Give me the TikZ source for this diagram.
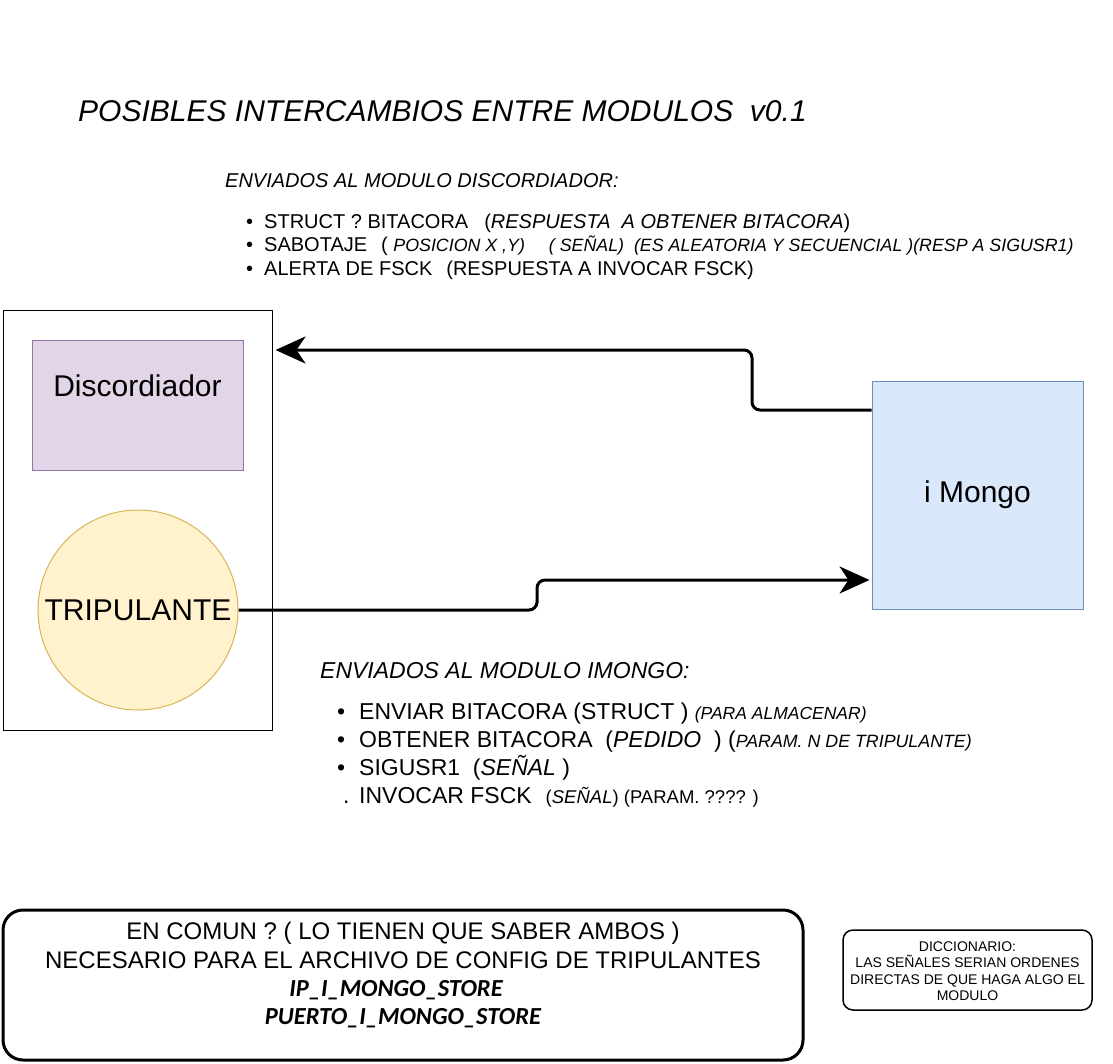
\documentclass[tikz,border=0pt]{standalone}
\usepackage{fontspec}
\setmainfont{Liberation Sans}
\newfontfamily\calfont{Carlito}
\usetikzlibrary{arrows.meta,positioning,calc}
\definecolor{purplefill}{HTML}{E1D5E7}
\definecolor{purpleline}{HTML}{9673A6}
\definecolor{yellowfill}{HTML}{FFF2CC}
\definecolor{yellowline}{HTML}{D6B656}
\definecolor{bluefill}{HTML}{DAE8FC}
\definecolor{blueline}{HTML}{6C8EBF}
\newcommand{\fs}[1]{\fontsize{#1}{#1}\selectfont}
\begin{document}
\begin{tikzpicture}[x=1pt,y=-1pt,
  txt/.style={inner sep=0pt,anchor=base west},
  ctxt/.style={inner sep=0pt,anchor=base},
  conn/.style={line width=3pt,rounded corners=8pt,
    -{Stealth[length=30pt,width=27pt,inset=9pt]}},
]
\useasboundingbox (0,0) rectangle (1113,1063);
\fill[white] (0,0) rectangle (1113,1063);

% title
\node[txt] (title) at (78,121) {\fs{30}\itshape POSIBLES INTERCAMBIOS ENTRE MODULOS\ \ v0.1};

% upper text block
\node[txt] (uphead) at (225,187) {\fs{20}\itshape ENVIADOS AL MODULO DISCORDIADOR:};
\node[txt] (ub1) at (246,228) {\fs{20}\textbullet};
\node[txt] (ul1) at (264,228) {\fs{20}STRUCT ? BITACORA\hspace{16pt}(\textit{RESPUESTA\ \ A OBTENER BITACORA})};
\node[txt] (ub2) at (246,251) {\fs{20}\textbullet};
\node[txt] (ul2) at (264,251) {\fs{20}SABOTAJE\hspace{14pt}( {\fs{17.8}\itshape POSICION X ,Y)\hspace{24pt}( SE\~NAL)\ \ (ES ALEATORIA Y SECUENCIAL )(RESP A SIGUSR1)}};
\node[txt] (ub3) at (246,275) {\fs{20}\textbullet};
\node[txt] (ul3) at (264,275) {\fs{20}ALERTA DE FSCK\hspace{14pt}(RESPUESTA A INVOCAR FSCK)};

% left container
\node[draw=black,line width=1pt,minimum width=269pt,minimum height=420pt,inner sep=0pt] (outer) at (137.5,520) {};
\node[draw=purpleline,fill=purplefill,line width=1pt,minimum width=211pt,minimum height=130pt,inner sep=0pt] (disc) at (137.5,405) {};
\node[inner sep=0pt] (disctext) at (137.5,386) {\fs{30}Discordiador};
\node[circle,draw=yellowline,fill=yellowfill,line width=1pt,minimum size=200pt,inner sep=0pt] (trip) at (138,610) {\fs{30}TRIPULANTE};

% iMongo
\node[draw=blueline,fill=bluefill,line width=1pt,minimum width=211pt,minimum height=228pt,inner sep=0pt] (mongo) at (977.5,495) {\fs{30}i Mongo};

% connectors
\coordinate (c1) at ([yshift=170pt,xshift=3pt]outer.east);
\draw[conn] ([yshift=85pt]mongo.west) -| (752,380) |- (c1);
\draw[conn] (trip.east) -| (537,595) |- ([yshift=-85pt,xshift=-2pt]mongo.west);

% lower text block
\node[txt] (lohead) at (320,678) {\fs{23}\itshape ENVIADOS AL MODULO IMONGO:};
\node[txt] (lb1) at (337,719) {\fs{23}\textbullet};
\node[txt] (ll1) at (359,719) {\fs{23}ENVIAR BITACORA (STRUCT ) {\fs{17.5}\itshape (PARA ALMACENAR)}};
\node[txt] (lb2) at (337,747) {\fs{23}\textbullet};
\node[txt] (ll2) at (359,747) {\fs{23}OBTENER BITACORA\ \ (\textit{PEDIDO}\ \ ) ({\fs{17.8}\itshape PARAM. N DE TRIPULANTE)}};
\node[txt] (lb3) at (337,775) {\fs{23}\textbullet};
\node[txt] (ll3) at (359,775) {\fs{23}SIGUSR1\ \ (\textit{SE\~NAL} )};
\node[txt] (lb4) at (343,803) {\fs{23}.};
\node[txt] (ll4) at (359,803) {\fs{23}INVOCAR FSCK\hspace{14pt}{\fs{18.5}(\textit{SE\~NAL}) (PARAM. ???? )}};

% bottom box
\node[draw=black,line width=3pt,rounded corners=20pt,minimum width=800pt,minimum height=150pt,inner sep=0pt] (common) at (403,985) {};
\node[ctxt] (cm1) at (403,939) {\fs{24}EN COMUN ? ( LO TIENEN QUE SABER AMBOS )};
\node[ctxt] (cm2) at (403,968) {\fs{24}NECESARIO PARA EL ARCHIVO DE CONFIG DE TRIPULANTES};
\node[ctxt] (cm3) at (396,996) {\fs{24.5}\calfont\bfseries\itshape IP\_I\_MONGO\_STORE};
\node[ctxt] (cm4) at (403,1024) {\fs{24.5}\calfont\bfseries\itshape PUERTO\_I\_MONGO\_STORE};

% dictionary
\node[draw=black,line width=1.5pt,rounded corners=10pt,minimum width=249pt,minimum height=80pt,inner sep=0pt] (dict) at (967.5,970) {};
\node[ctxt] (d1) at (967.5,951) {\fs{14}DICCIONARIO:};
\node[ctxt] (d2) at (967.5,967) {\fs{14}LAS SE\~NALES SERIAN ORDENES};
\node[ctxt] (d3) at (967.5,984) {\fs{14}DIRECTAS DE QUE HAGA ALGO EL};
\node[ctxt] (d4) at (967.5,1000) {\fs{14}MODULO};
\end{tikzpicture}
\end{document}
